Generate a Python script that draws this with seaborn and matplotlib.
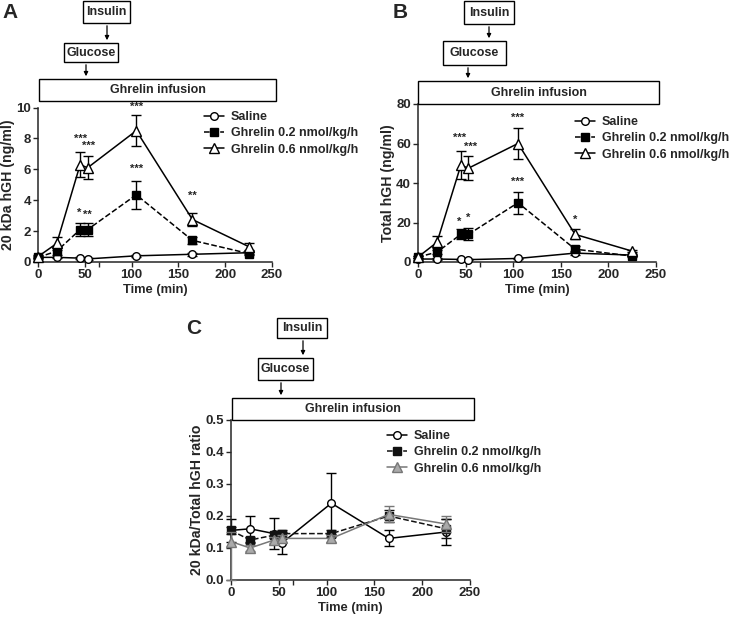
import numpy as np
import pandas as pd
import matplotlib
matplotlib.use("Agg")
import matplotlib.pyplot as plt
from matplotlib.patches import Rectangle
import seaborn as sns

# ---------------- data ----------------
time_min = [0, 20, 45, 53, 105, 165, 225]
series_names = ["Saline", "Ghrelin 0.2 nmol/kg/h", "Ghrelin 0.6 nmol/kg/h"]

# Panel A: 20 kDa hGH (ng/ml)
a_saline = [0.3, 0.3, 0.25, 0.2, 0.4, 0.5, 0.6]
a_saline_err = [0.05, 0.05, 0.05, 0.05, 0.08, 0.08, 0.1]
a_g02 = [0.3, 0.7, 2.1, 2.1, 4.35, 1.4, 0.55]
a_g02_err = [0.1, 0.25, 0.42, 0.42, 0.9, 0.25, 0.1]
a_g06 = [0.35, 1.2, 6.3, 6.1, 8.5, 2.75, 1.0]
a_g06_err = [0.1, 0.4, 0.8, 0.75, 1.0, 0.42, 0.25]

# Panel B: total hGH (ng/ml)
b_saline = [1.5, 1.5, 1.3, 1.2, 1.8, 4.5, 3.5]
b_saline_err = [0.3, 0.3, 0.3, 0.3, 0.4, 1.0, 0.5]
b_g02 = [2.5, 5.0, 14.0, 14.0, 30.0, 6.5, 3.0]
b_g02_err = [0.5, 1.0, 2.5, 3.0, 5.5, 1.5, 0.5]
b_g06 = [2.5, 10.0, 49.0, 47.5, 60.0, 14.0, 5.5]
b_g06_err = [0.5, 3.0, 7.0, 6.0, 8.0, 2.5, 0.6]

# Panel C: 20 kDa / total ratio
c_saline = [0.155, 0.16, 0.145, 0.115, 0.24, 0.13, 0.15]
c_saline_err = [0.035, 0.04, 0.048, 0.035, 0.095, 0.025, 0.04]
c_g02 = [0.155, 0.125, 0.14, 0.145, 0.145, 0.2, 0.16]
c_g02_err = [0.01, 0.01, 0.01, 0.01, 0.01, 0.02, 0.03]
c_g06 = [0.12, 0.10, 0.125, 0.13, 0.13, 0.205, 0.175]
c_g06_err_low = [0.12, 0.01, 0.01, 0.01, 0.01, 0.025, 0.025]
c_g06_err_high = [0.03, 0.01, 0.01, 0.01, 0.01, 0.025, 0.025]

# significance labels (time, y, text)
a_stars = [(45, 8.0, "***"), (54, 7.5, "***"), (105, 10.05, "***"), (105, 6.0, "***"),
           (44, 3.15, "*"), (53, 3.05, "**"), (165, 4.3, "**")]
b_stars = [(44, 63, "***"), (55, 58.5, "***"), (105, 73, "***"), (105, 40.5, "***"),
           (43, 20.5, "*"), (53, 22.5, "*"), (165, 21.5, "*")]

x_ticks = [0, 50, 100, 150, 200, 250]
a_yticks = [0, 2, 4, 6, 8, 10]
b_yticks = [0, 20, 40, 60, 80]
c_yticks = [0.0, 0.1, 0.2, 0.3, 0.4, 0.5]
c_yticklabels = ["0.0", "0.1", "0.2", "0.3", "0.4", "0.5"]

# ---------------- style ----------------
sns.set_style("ticks")
plt.rcParams["font.family"] = ["Liberation Sans", "DejaVu Sans"]
plt.rcParams["font.weight"] = "bold"
plt.rcParams["axes.labelweight"] = "bold"

W, H = 733, 620
fig = plt.figure(figsize=(W / 100, H / 100), dpi=100)


def px_axes(x0, x1, ytop, ybot):
    return fig.add_axes([x0 / W, 1 - ybot / H, (x1 - x0) / W, (ybot - ytop) / H])


def fx(x):
    return x / W


def fy(y):
    return 1 - y / H


def box(x0, x1, y0, y1, text, fs=9):
    fig.patches.append(Rectangle((fx(x0), fy(y1)), fx(x1) - fx(x0), fy(y0) - fy(y1),
                                 transform=fig.transFigure, fill=False, lw=1.0,
                                 edgecolor="black"))
    fig.text(fx((x0 + x1) / 2), fy((y0 + y1) / 2), text, ha="center", va="center",
             fontsize=fs, fontweight="bold")


def arrow(x, y0, y1):
    fig.add_artist(matplotlib.patches.FancyArrowPatch(
        (fx(x), fy(y0)), (fx(x), fy(y1)), transform=fig.transFigure,
        arrowstyle="-|>", mutation_scale=6, lw=0.9, color="black"))


colors_main = ["black", "black", "black"]
styles = ["-", "--", "-"]
markers = ["o", "s", "^"]
msizes = [5.5, 5.5, 6.5]


def draw_panel(ax, vals, errs, colors, mfc, ylim, yticks, ylabel, yticklabels=None):
    for i, name in enumerate(series_names):
        df = pd.DataFrame({"Time": time_min, "val": vals[i]})
        sns.lineplot(data=df, x="Time", y="val", ax=ax, color=colors[i],
                     linestyle=styles[i], marker=markers[i], markersize=msizes[i],
                     markerfacecolor=mfc[i], markeredgecolor=colors[i],
                     markeredgewidth=1.0, lw=1.1, label=name, clip_on=False,
                     zorder=3 + i)
        ax.errorbar(time_min, vals[i], yerr=errs[i], fmt="none", ecolor=colors[i],
                    elinewidth=1.0, capsize=3.5, capthick=1.0, clip_on=False, zorder=2 + i)
    ax.set_xlim(0, 250)
    ax.set_ylim(*ylim)
    ax.set_xticks(x_ticks)
    ax.set_xticks([65], minor=True)
    ax.set_yticks(yticks)
    if yticklabels is not None:
        ax.set_yticklabels(yticklabels)
    ax.tick_params(axis="both", which="both", direction="out", length=3.5, width=1.0,
                   labelsize=9.5, pad=1.5)
    for lab in ax.get_xticklabels() + ax.get_yticklabels():
        lab.set_fontweight("bold")
    ax.set_xlabel("Time (min)", fontsize=9.3, fontweight="bold", labelpad=2)
    ax.set_ylabel(ylabel, fontsize=10.2, fontweight="bold", labelpad=1)
    sns.despine(ax=ax)
    for s in ["left", "bottom"]:
        ax.spines[s].set_linewidth(1.1)
    return ax


def legend(ax, loc_xy):
    leg = ax.legend(loc="upper left", bbox_to_anchor=loc_xy, bbox_transform=fig.transFigure,
                    frameon=False, fontsize=9, handlelength=1.6, handletextpad=0.55,
                    labelspacing=0.35, borderaxespad=0)
    for t in leg.get_texts():
        t.set_fontweight("bold")


# ---------------- Panel A ----------------
axA = px_axes(38, 272, 107.5, 262)
draw_panel(axA, [a_saline, a_g02, a_g06], [a_saline_err, a_g02_err, a_g06_err],
           colors_main, ["white", "black", "white"], (0, 10), a_yticks, "20 kDa hGH (ng/ml)")
for x, y, t in a_stars:
    axA.text(x, y, t, ha="center", va="center", fontsize=8, fontweight="bold", clip_on=False)
legend(axA, (fx(199), fy(106)))

# ---------------- Panel B ----------------
axB = px_axes(418, 656, 104, 262)
draw_panel(axB, [b_saline, b_g02, b_g06], [b_saline_err, b_g02_err, b_g06_err],
           colors_main, ["white", "black", "white"], (0, 80), b_yticks, "Total hGH (ng/ml)")
for x, y, t in b_stars:
    axB.text(x, y, t, ha="center", va="center", fontsize=8, fontweight="bold", clip_on=False)
legend(axB, (fx(570), fy(111)))

# ---------------- Panel C ----------------
axC = px_axes(231, 470, 420, 580)
grey = "#777777"
draw_panel(axC, [c_saline, c_g02, c_g06],
           [c_saline_err, c_g02_err, [c_g06_err_low, c_g06_err_high]],
           ["black", "#111111", grey], ["white", "#111111", "#aaaaaa"], (0, 0.5), c_yticks,
           "20 kDa/Total hGH ratio", c_yticklabels)
legend(axC, (fx(382), fy(425)))

# ---------------- annotation boxes ----------------
# Panel A
box(83, 130, 1, 23, "Insulin")
arrow(107, 23, 43)
box(64, 118, 43, 62, "Glucose")
arrow(86, 62, 79)
box(39, 276, 79, 101, "Ghrelin infusion")
# Panel B
box(464, 514, 1, 24, "Insulin")
arrow(489, 24, 41)
box(443, 506, 41, 65, "Glucose")
arrow(468, 65, 81)
box(418, 659, 81, 104, "Ghrelin infusion")
# Panel C
box(277, 327, 318, 338, "Insulin")
arrow(303, 338, 358)
box(258, 313, 358, 380, "Glucose")
arrow(281, 380, 398)
box(232, 474, 398, 420, "Ghrelin infusion")

# panel letters
fig.text(fx(2), fy(12), "A", fontsize=15, fontweight="bold", va="center")
fig.text(fx(393), fy(12), "B", fontsize=15, fontweight="bold", va="center")
fig.text(fx(186), fy(328), "C", fontsize=15, fontweight="bold", va="center")

fig.savefig("out.png", dpi=100)
